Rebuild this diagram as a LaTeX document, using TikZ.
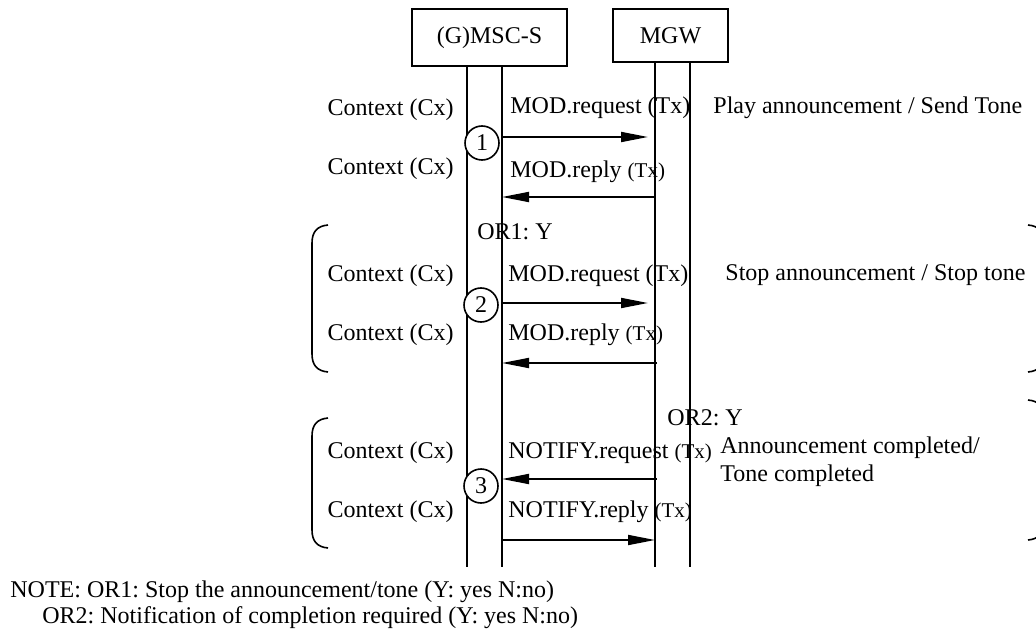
\documentclass[tikz,border=0pt]{standalone}
\usepackage{fontspec}
\setmainfont{Liberation Serif}
\usetikzlibrary{arrows.meta, positioning}
\newcommand{\txsmall}{{\fontsize{10.5}{12}\selectfont(Tx)}}
\frenchspacing

\begin{document}
\begin{tikzpicture}[x=0.5pt, y=-0.5pt,
    every node/.style={font=\fontsize{12}{14}\selectfont, inner sep=0pt},
    entity/.style={rectangle, draw, line width=0.8pt},
    life/.style={line width=0.9pt},
    msg/.style={-{Triangle[length=13.5pt, width=5pt]}, line width=0.9pt},
    numcirc/.style={circle, draw, fill=white, line width=0.8pt, minimum size=17pt},
    ctx/.style={anchor=east},
    lbl/.style={anchor=west},
    brace/.style={line width=0.8pt}
]
\useasboundingbox (0,0) rectangle (1036,630);

% Entities
\node[entity, minimum width=77.5pt, minimum height=28.5pt] (msc) at (489.5,37.5) {(G)MSC-S};
\node[entity, minimum width=57.5pt, minimum height=26.5pt] (mgw) at (670.5,35.5) {MGW};

% Lifelines
\coordinate (mscA) at (467,567);
\coordinate (mscB) at (502,567);
\coordinate (mgwA) at (655,567);
\coordinate (mgwB) at (690,567);
\draw[life] (mscA |- msc.south) -- (mscA);
\draw[life] (mscB |- msc.south) -- (mscB);
\draw[life] (mgwA |- mgw.south) -- (mgwA);
\draw[life] (mgwB |- mgw.south) -- (mgwB);

% Message rows
\coordinate (r1) at (0,137);
\coordinate (r2) at (0,197);
\coordinate (r3) at (0,303);
\coordinate (r4) at (0,363);
\coordinate (r5) at (0,479);
\coordinate (r6) at (0,540);

% Play announcement
\node[ctx] (cx1) at (454,110) {Context (Cx)};
\node[lbl] (req1) at (510,108) {MOD.request (Tx)};
\node[lbl] (play) at (713,108) {Play announcement / Send Tone};
\node[numcirc] (n1) at (482,143) {1};
\draw[msg] (mscB |- r1) -- ([xshift=-3.5pt]mgwA |- r1);
\node[ctx] (cx2) at (454,169) {Context (Cx)};
\node[lbl] (rep1) at (510,172) {MOD.reply \txsmall};
\draw[msg] (mgwA |- r2) -- (mscB |- r2);

% OR1: stop announcement
\node[lbl] (or1) at (477,232) {OR1: Y};
\node[ctx] (cx3) at (454,276) {Context (Cx)};
\node[lbl] (req2) at (508,276) {MOD.request (Tx)};
\node[lbl] (stop) at (725,275) {Stop announcement / Stop tone};
\node[numcirc] (n2) at (481,305) {2};
\draw[msg] (mscB |- r3) -- ([xshift=-3.5pt]mgwA |- r3);
\node[ctx] (cx4) at (454,335) {Context (Cx)};
\node[lbl] (rep2) at (508,335) {MOD.reply \txsmall};
\draw[msg] ([xshift=1pt]mgwA |- r4) -- (mscB |- r4);

% OR2: notification of completion
\node[lbl] (or2) at (667,418) {OR2: Y};
\node[ctx] (cx5) at (454,453) {Context (Cx)};
\node[lbl] (req3) at (508,453) {NOTIFY.request \txsmall};
\node[lbl, align=left] (done) at (720,462) {Announcement completed/\\Tone completed};
\node[numcirc] (n3) at (481,486) {3};
\draw[msg] ([xshift=1pt]mgwA |- r5) -- (mscB |- r5);
\node[ctx] (cx6) at (454,512) {Context (Cx)};
\node[lbl] (rep3) at (508,512) {NOTIFY.reply \txsmall};
\draw[msg] (mscB |- r6) -- (mgwA |- r6);

% Brackets
\draw[brace] (328,225) .. controls (317,226) and (312,232) .. (312,243) -- (312,354)
  .. controls (312,365) and (317,371) .. (328,372);
\draw[brace] (328,418) .. controls (317,419) and (312,425) .. (312,436) -- (312,530)
  .. controls (312,541) and (317,547) .. (328,548);
\draw[brace] (1028,225) .. controls (1039,226) and (1044,232) .. (1044,243) -- (1044,354)
  .. controls (1044,365) and (1039,371) .. (1028,372);
\draw[brace] (1028,400) .. controls (1039,401) and (1044,407) .. (1044,418) -- (1044,522)
  .. controls (1044,533) and (1039,539) .. (1028,540);

% Notes
\node[lbl] (note1) at (10,592) {NOTE: OR1: Stop the announcement/tone (Y: yes N:no)};
\node[lbl] (note2) at (42,618) {OR2: Notification of completion required (Y: yes N:no)};
\end{tikzpicture}
\end{document}
